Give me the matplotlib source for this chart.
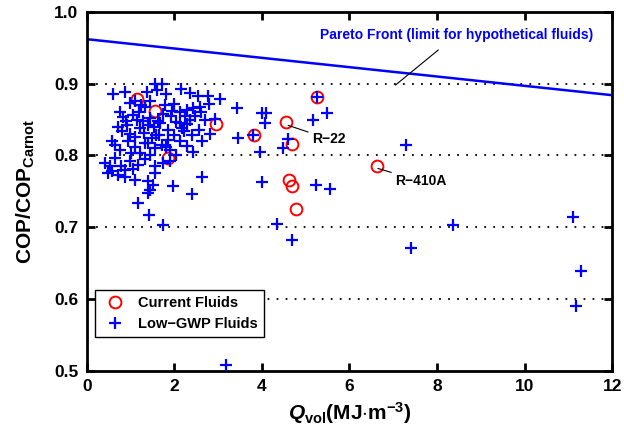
import matplotlib
matplotlib.use("Agg")
import matplotlib.pyplot as plt

plt.rcParams.update({
    "font.family": ["Liberation Sans", "DejaVu Sans"],
    "font.weight": "bold",
    "mathtext.fontset": "custom",
    "mathtext.rm": "Liberation Sans:bold",
    "mathtext.it": "Liberation Sans:bold:italic",
    "mathtext.bf": "Liberation Sans:bold",
})

# Pareto front end points
pareto_x = [0.0, 12.0]
pareto_y = [0.962, 0.884]

# Current (high-GWP) fluids
current_x = [1.14, 1.55, 1.86, 2.96, 3.82, 4.56, 4.68, 4.62, 4.68, 4.77, 5.26, 6.62]
current_y = [0.878, 0.862, 0.796, 0.844, 0.828, 0.846, 0.816, 0.766, 0.758, 0.725, 0.882, 0.786]

# Low-GWP candidate fluids
lowgwp_x = [
    0.60, 0.87, 1.57, 1.73, 1.60, 2.15, 2.35, 1.37, 1.82, 2.53, 2.77, 3.04, 1.10,
    0.98, 1.25, 1.33, 2.80, 2.58, 2.42, 2.30, 1.78, 2.00, 1.95, 1.45, 3.43, 4.00, 4.10,
    0.75, 0.82, 1.05, 1.20, 1.44, 1.74, 1.93, 2.13, 2.24, 2.35, 2.47, 2.60, 2.70, 2.93,
    2.30, 2.12, 1.62, 0.90, 4.07,
    0.71, 0.80, 0.92, 0.98, 1.21, 1.30, 1.54, 1.65, 1.86, 2.00, 2.22, 2.40, 2.57, 2.82,
    1.10, 1.40, 3.45, 3.80,
    0.64, 0.75, 0.94, 1.10, 1.21, 1.39, 1.55, 1.71, 1.90, 2.12, 2.29, 2.42, 2.63, 0.58,
    1.00, 3.95,
    0.41, 0.53, 0.64, 0.78, 0.98, 1.17, 1.33, 1.55, 1.74, 1.90, 0.58, 0.88, 1.05, 1.45, 2.05,
    0.48, 0.71, 0.87, 1.10, 1.39, 1.55, 1.52, 1.97, 2.63, 4.00,
    1.40, 1.44, 2.41, 1.16, 1.42, 1.74, 4.34, 4.69, 3.19,
    5.26, 5.48, 5.17, 4.60, 4.49, 5.23, 5.55, 7.29, 8.36, 7.40, 11.10, 11.28, 11.18,
    1.28, 1.50, 1.68, 1.85, 2.05, 1.15, 1.32, 1.58, 1.80, 2.18,
]
lowgwp_y = [
    0.885, 0.888, 0.899, 0.899, 0.891, 0.893, 0.887, 0.888, 0.886, 0.883, 0.883, 0.879, 0.876,
    0.873, 0.870, 0.867, 0.872, 0.868, 0.866, 0.864, 0.870, 0.872, 0.862, 0.876, 0.866, 0.859, 0.859,
    0.860, 0.853, 0.857, 0.861, 0.852, 0.858, 0.855, 0.860, 0.855, 0.849, 0.855, 0.860, 0.849, 0.851,
    0.844, 0.845, 0.848, 0.848, 0.845,
    0.840, 0.834, 0.842, 0.830, 0.838, 0.832, 0.840, 0.829, 0.836, 0.829, 0.834, 0.828, 0.836, 0.830,
    0.826, 0.843, 0.825, 0.829,
    0.814, 0.808, 0.820, 0.812, 0.804, 0.818, 0.810, 0.815, 0.807, 0.820, 0.813, 0.805, 0.820, 0.820,
    0.803, 0.805,
    0.790, 0.786, 0.796, 0.785, 0.793, 0.787, 0.795, 0.785, 0.790, 0.792, 0.778, 0.780, 0.781, 0.800, 0.800,
    0.775, 0.773, 0.770, 0.766, 0.765, 0.775, 0.759, 0.757, 0.770, 0.763,
    0.748, 0.752, 0.747, 0.734, 0.717, 0.703, 0.705, 0.682, 0.508,
    0.882, 0.859, 0.850, 0.823, 0.810, 0.759, 0.754, 0.815, 0.703, 0.671, 0.715, 0.639, 0.590,
    0.848, 0.824, 0.845, 0.822, 0.846, 0.850, 0.818, 0.828, 0.812, 0.838,
]

fig = plt.figure(figsize=(6.24, 4.40), dpi=100)
ax = fig.add_axes([0.139, 0.157, 0.842, 0.816])

for yg in (0.6, 0.7, 0.8, 0.9):
    ax.axhline(yg, color="black", linestyle=(0, (1, 4)), linewidth=1.3, zorder=1)

ax.plot(pareto_x, pareto_y, color="#0000ff", linewidth=1.8, zorder=2)
ax.plot(current_x, current_y, linestyle="none", marker="o", markersize=8.5,
        markerfacecolor="none", markeredgecolor="red", markeredgewidth=1.4,
        label="Current Fluids", zorder=3)
ax.plot(lowgwp_x, lowgwp_y, linestyle="none", marker="+", markersize=8,
        color="#0000ff", markeredgewidth=1.6, label="Low\u2212GWP Fluids", zorder=4)

ax.annotate("Pareto Front (limit for hypothetical fluids)", xy=(7.05, 0.898),
            xytext=(8.45, 0.968), ha="center", va="center", color="#0000ff",
            fontsize=10, fontweight="bold",
            arrowprops=dict(arrowstyle="-", color="black", lw=0.8, shrinkA=6, shrinkB=0))
ax.annotate("R\u221222", xy=(4.6, 0.842), xytext=(5.15, 0.823), ha="left", va="center",
            fontsize=10, fontweight="bold",
            arrowprops=dict(arrowstyle="-", color="black", lw=0.8, shrinkA=1, shrinkB=0))
ax.annotate("R\u2212410A", xy=(6.65, 0.782), xytext=(7.05, 0.764), ha="left", va="center",
            fontsize=10, fontweight="bold",
            arrowprops=dict(arrowstyle="-", color="black", lw=0.8, shrinkA=1, shrinkB=0))

ax.set_xlim(0, 12)
ax.set_ylim(0.5, 1.0)
ax.set_xticks(range(0, 13, 2))
ax.set_yticks([0.5, 0.6, 0.7, 0.8, 0.9, 1.0])
ax.set_yticklabels(["0.5", "0.6", "0.7", "0.8", "0.9", "1.0"])
ax.tick_params(direction="in", length=6, width=2, top=True, right=True, labelsize=12.5, pad=6)
for sp in ax.spines.values():
    sp.set_linewidth(2)

ax.set_xlabel(r"$Q_\mathrm{vol}$(MJ$\cdot$m$^{-3}$)", fontsize=15, fontweight="bold")
ax.set_ylabel(r"COP/COP$_\mathrm{Carnot}$", fontsize=15, fontweight="bold", labelpad=12)

leg = ax.legend(loc="lower left", bbox_to_anchor=(0.015, 0.095), borderaxespad=0,
                fontsize=10.5, fancybox=False, edgecolor="black", framealpha=1,
                handletextpad=0.6)
leg.get_frame().set_linewidth(1.0)

fig.savefig("out.png", dpi=100)
